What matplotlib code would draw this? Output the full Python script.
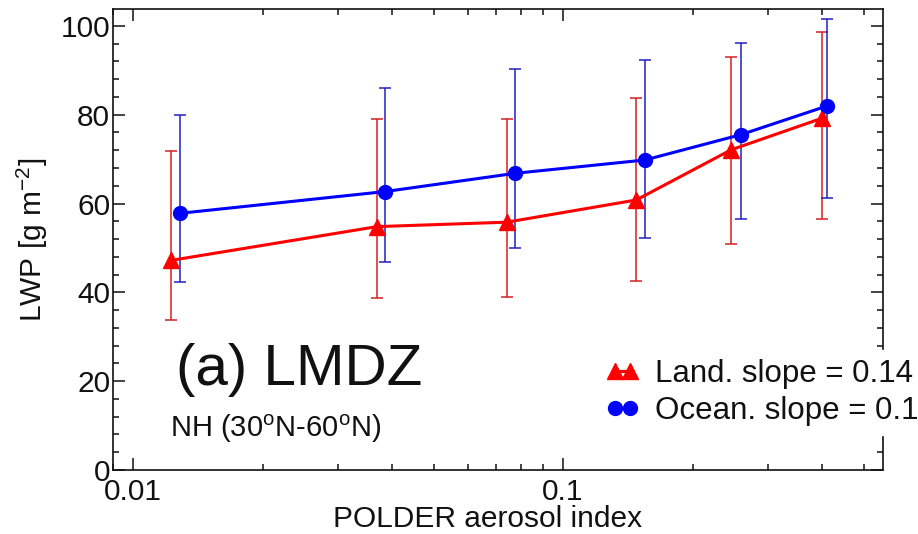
import matplotlib
matplotlib.use('Agg')
import matplotlib.pyplot as plt
from matplotlib.ticker import MultipleLocator, LogLocator, NullFormatter

plt.rcParams['font.family'] = ['Liberation Sans', 'DejaVu Sans']
plt.rcParams['mathtext.fontset'] = 'custom'
plt.rcParams['mathtext.rm'] = 'Liberation Sans'
plt.rcParams['mathtext.it'] = 'Liberation Sans:italic'
plt.rcParams['mathtext.bf'] = 'Liberation Sans:bold'

# ---- data ----
land_x = [0.01226, 0.0369, 0.0740, 0.148, 0.246, 0.400]
land_lwp = [47.2, 54.8, 55.8, 60.8, 72.1, 79.2]
land_hi = [71.8, 79.0, 79.0, 83.7, 92.9, 98.6]
land_lo = [33.7, 38.7, 39.0, 42.6, 50.8, 56.5]

ocean_x = [0.01286, 0.0386, 0.0773, 0.155, 0.259, 0.412]
ocean_lwp = [57.8, 62.7, 66.8, 69.8, 75.5, 82.0]
ocean_hi = [80.0, 86.0, 90.3, 92.3, 96.2, 101.5]
ocean_lo = [42.3, 46.9, 49.9, 52.2, 56.5, 61.2]

x_ticks = [0.01, 0.1]
x_ticklabels = ['0.01', '0.1']
y_ticks = [0, 20, 40, 60, 80, 100]

land_label = 'Land. slope = 0.14'
ocean_label = 'Ocean. slope = 0.1'

W, H = 918, 534
fig = plt.figure(figsize=(W / 100, H / 100), dpi=100)
ax = fig.add_axes([113 / W, (H - 470) / H, (883 - 113) / W, (470 - 9) / H])

land_err = [[v - l for v, l in zip(land_lwp, land_lo)],
            [h - v for v, h in zip(land_lwp, land_hi)]]
ocean_err = [[v - l for v, l in zip(ocean_lwp, ocean_lo)],
             [h - v for v, h in zip(ocean_lwp, ocean_hi)]]

ax.errorbar(land_x, land_lwp, yerr=land_err, fmt='none', ecolor='#d42020',
            elinewidth=1.1, capsize=4, capthick=1.1, zorder=2)
ax.errorbar(ocean_x, ocean_lwp, yerr=ocean_err, fmt='none', ecolor='#2020c0',
            elinewidth=1.1, capsize=4, capthick=1.1, zorder=2)
l1, = ax.plot(land_x, land_lwp, color='red', lw=2.2, marker='^', ms=11,
              mec='red', mfc='red', zorder=3, label=land_label)
l2, = ax.plot(ocean_x, ocean_lwp, color='blue', lw=2.2, marker='o', ms=10,
              mec='blue', mfc='blue', zorder=4, label=ocean_label)

ax.set_xscale('log')
ax.set_xlim(0.00898, 0.5546)
ax.set_ylim(0, 103.8)
ax.set_xticks(x_ticks)
ax.set_xticklabels(x_ticklabels)
ax.xaxis.set_minor_locator(LogLocator(base=10, subs=range(2, 10)))
ax.xaxis.set_minor_formatter(NullFormatter())
ax.set_yticks(y_ticks)
ax.yaxis.set_minor_locator(MultipleLocator(4))

ax.tick_params(which='both', direction='in', top=True, right=True,
               width=1.1, labelsize=21.5, colors='#111111')
ax.tick_params(which='major', length=8.5)
ax.tick_params(which='minor', length=4.3)
ax.tick_params(axis='y', which='major', pad=2)
ax.tick_params(axis='x', which='major', pad=6)
for s in ax.spines.values():
    s.set_linewidth(1.2)
    s.set_color('#111111')

ax.set_xlabel('POLDER aerosol index', fontsize=21.5, color='#111111')
ax.xaxis.label.set_va('baseline')
ax.xaxis.set_label_coords((488 - 113) / 770, (470 - 527) / 461)
ax.set_ylabel('LWP [g m$^{-2}$]', fontsize=21.5, color='#111111')
ax.yaxis.label.set_va('center')
ax.yaxis.set_label_coords((32 - 113) / 770, 0.5)

fig.text(176 / W, (H - 385) / H, '(a) LMDZ', fontsize=42, va='baseline',
         ha='left', color='#111111')
fig.text(170 / W, (H - 437) / H, 'NH (30$^\\mathrm{o}$N-60$^\\mathrm{o}$N)',
         fontsize=21, va='baseline', ha='left', color='#111111')

leg = ax.legend(handles=[l1, l2], loc='upper left',
                bbox_to_anchor=(596 / W, (H - 350) / H),
                bbox_transform=fig.transFigure, numpoints=2,
                fontsize=22.5, handlelength=1.1, handletextpad=0.5,
                labelspacing=0.2, borderpad=0.3, borderaxespad=0,
                frameon=True, fancybox=False, framealpha=1,
                markerscale=1.0)
leg.get_frame().set_facecolor('white')
leg.get_frame().set_edgecolor('white')
leg.set_zorder(10)
for t in leg.get_texts():
    t.set_color('#111111')

fig.savefig('out.png', dpi=100)
